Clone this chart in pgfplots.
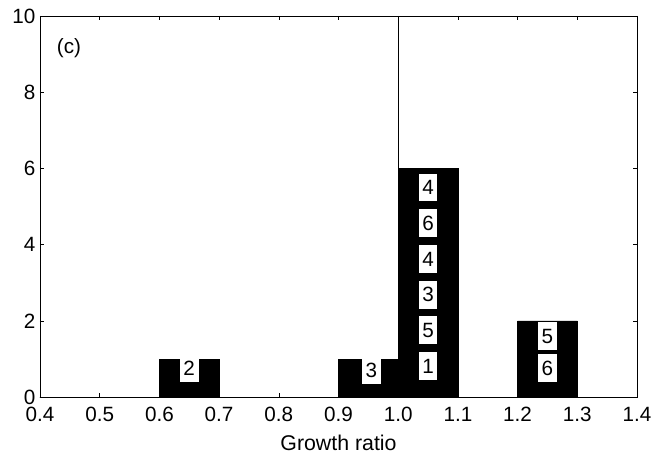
\documentclass[border=0pt]{standalone}
\usepackage{pgfplots}
\pgfplotsset{compat=1.18}
\usepackage{fontspec}
\setmainfont{Liberation Sans}

\begin{document}
\begin{tikzpicture}
\begin{axis}[
  scale only axis,
  width=448pt, height=286pt,
  xmin=0.4, xmax=1.4, ymin=0, ymax=10,
  xtick={0.4,0.5,...,1.41},
  ytick={0,2,...,10},
  xticklabel style={/pgf/number format/fixed, /pgf/number format/fixed zerofill,
    /pgf/number format/precision=1, yshift=-4pt},
  /pgf/number format/assume math mode=true,
  tick align=inside,
  major tick length=3pt,
  tick style={black, line width=0.4pt},
  axis line style={line width=0.5pt},
  tick label style={font=\fontsize{15.5}{18}\selectfont},
  xlabel={Growth ratio},
  xlabel style={font=\fontsize{16}{19}\selectfont,
    at={(rel axis cs:0.5,0)}, anchor=center, yshift=-34.5pt},
  clip=false,
]
% reference line at ratio 1
\addplot[black, line width=0.5pt] coordinates {(1.0,0) (1.0,10)};
% histogram of growth ratios
\addplot[ybar interval, fill=black, draw=black] coordinates {
  (0.4,0) (0.5,0) (0.6,1) (0.7,0) (0.8,0) (0.9,1)
  (1.0,6) (1.1,0) (1.2,2) (1.3,0) (1.4,0)
};
% identifiers of the members in each bin
\addplot[draw=none, mark=none,
  nodes near coords, point meta=explicit symbolic,
  nodes near coords style={anchor=center, fill=white, text=black,
    inner sep=0pt, minimum height=21pt, minimum width=14pt,
    font=\fontsize{15.5}{18}\selectfont}]
  table[meta=label] {
x     y     label
0.65  0.76  2
0.955 0.71  3
1.05  0.81  1
1.05  1.75  5
1.05  2.69  3
1.05  3.62  4
1.05  4.56  6
1.05  5.50  4
1.25  0.76  6
1.25  1.60  5
};
\node[anchor=west, inner sep=0pt, font=\fontsize{15.5}{18}\selectfont] at (axis cs:0.428,9.15) {(c)};
\coordinate (ll) at (rel axis cs:0,0);
\coordinate (ur) at (rel axis cs:1,1);
\end{axis}
\pgfresetboundingbox
\path[use as bounding box] ([xshift=-30pt,yshift=-45pt]ll) rectangle ([xshift=12.75pt,yshift=12pt]ur);
\end{tikzpicture}
\end{document}
